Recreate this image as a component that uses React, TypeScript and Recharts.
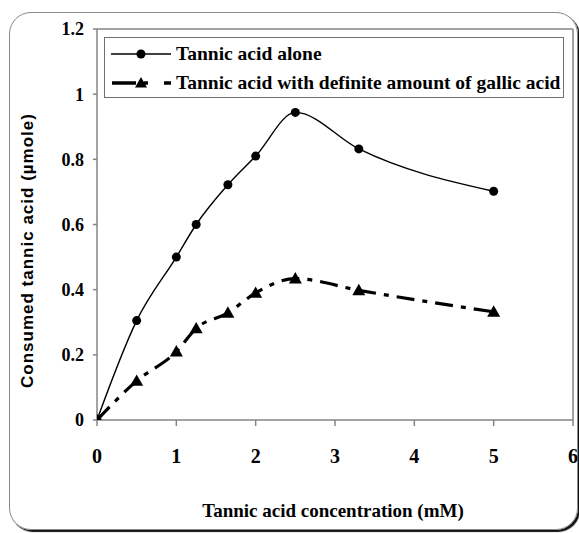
// Consumed tannic acid vs tannic acid concentration, with and without gallic acid.
// Excel-style framed chart: rounded outer border, boxed legend inside the plot.

import { LineChart, Line, XAxis, YAxis, ReferenceLine, Legend, Label } from "recharts";

const CONCENTRATION = [0, 0.5, 1, 1.25, 1.65, 2, 2.5, 3.3, 5];
const TANNIC_ALONE = [0, 0.305, 0.5, 0.6, 0.722, 0.81, 0.944, 0.832, 0.702];
const WITH_GALLIC = [0, 0.12, 0.21, 0.281, 0.329, 0.39, 0.434, 0.398, 0.332];

const X_TICKS = [0, 1, 2, 3, 4, 5, 6];
const Y_TICKS = [0, 0.2, 0.4, 0.6, 0.8, 1, 1.2];

const SERIES_NAMES = {
  alone: "Tannic acid alone",
  gallic: "Tannic acid with definite amount of gallic acid",
};

const rows = CONCENTRATION.map((c, i) => ({ c, alone: TANNIC_ALONE[i], gallic: WITH_GALLIC[i] }));

const SERIF = "Liberation Serif, DejaVu Serif, Times, serif";
const SANS = "Liberation Sans, Arial, sans-serif";
const AXIS_GRAY = "#858585";

function Triangle(props: any) {
  const { cx, cy } = props;
  if (cx == null || cy == null) return null;
  const s = 6.5;
  return <polygon points={`${cx},${cy - s} ${cx + s},${cy + s * 0.75} ${cx - s},${cy + s * 0.75}`} fill="#000" />;
}

function LegendBox() {
  const rowStyle = { display: "flex", alignItems: "center", height: 29 } as const;
  const textStyle = { fontFamily: SERIF, fontWeight: "bold", fontSize: 19.5, color: "#000", whiteSpace: "nowrap" } as const;
  return (
    <div style={{ width: 460, height: 61, boxSizing: "border-box", border: "1.5px solid #707070", background: "#fff", paddingTop: 1 }}>
      <div style={rowStyle}>
        <svg width={71} height={16} style={{ flex: "none" }}>
          <line x1={6} y1={8} x2={66} y2={8} stroke="#000" strokeWidth={1.5} />
          <circle cx={36} cy={8} r={4.5} fill="#000" />
        </svg>
        <span style={textStyle}>{SERIES_NAMES.alone}</span>
      </div>
      <div style={rowStyle}>
        <svg width={71} height={16} style={{ flex: "none" }}>
          <line x1={7} y1={8} x2={31} y2={8} stroke="#000" strokeWidth={3.5} />
          <line x1={39} y1={8} x2={43} y2={8} stroke="#000" strokeWidth={3.5} />
          <line x1={59} y1={8} x2={66} y2={8} stroke="#000" strokeWidth={3.5} />
          <polygon points="36,2 42,12.5 30,12.5" fill="#000" />
        </svg>
        <span style={textStyle}>{SERIES_NAMES.gallic}</span>
      </div>
    </div>
  );
}

export default function App() {
  return (
    <div style={{ position: "absolute", left: 0, top: 0, width: 579, height: 533, background: "#fff" }}>
      <div
        style={{
          position: "absolute", left: 9, top: 12, width: 569, height: 518, boxSizing: "border-box",
          border: "1.5px solid #8a8a8a", borderRadius: 22, boxShadow: "2px 2px 1px #111",
        }}
      />
      <div style={{ position: "absolute", left: 0, top: 0 }}>
        <LineChart width={579} height={533} data={rows} margin={{ top: 29, right: 6, bottom: 53, left: 7 }}>
          <XAxis
            dataKey="c" type="number" domain={[0, 6]} ticks={X_TICKS} allowDataOverflow
            height={60} tickSize={6} tickMargin={23}
            axisLine={{ stroke: AXIS_GRAY, strokeWidth: 1.5 }} tickLine={{ stroke: AXIS_GRAY, strokeWidth: 1.5 }}
            tick={{ fill: "#000", fontFamily: SERIF, fontWeight: "bold", fontSize: 20 }}
          >
            <Label
              content={({ viewBox }: any) => (
                <text
                  x={viewBox.x + viewBox.width / 2 - 2} y={viewBox.y + 90} textAnchor="middle" dominantBaseline="central"
                  fontFamily={SERIF} fontWeight="bold" fontSize={19} fill="#000"
                >
                  Tannic acid concentration (mM)
                </text>
              )}
            />
          </XAxis>
          <YAxis
            type="number" domain={[0, 1.2]} ticks={Y_TICKS} allowDataOverflow
            width={90} tickSize={4} tickMargin={9}
            axisLine={{ stroke: AXIS_GRAY, strokeWidth: 1.5 }} tickLine={{ stroke: AXIS_GRAY, strokeWidth: 1.5 }}
            tick={{ fill: "#000", fontFamily: SERIF, fontWeight: "bold", fontSize: 18 }}
          >
            <Label
              content={({ viewBox }: any) => {
                const x = viewBox.x + 20;
                const y = viewBox.y + viewBox.height / 2 + 26;
                return (
                  <text
                    x={x} y={y} transform={`rotate(-90 ${x} ${y})`} textAnchor="middle" dominantBaseline="central"
                    fontFamily={SANS} fontWeight="bold" fontSize={17} letterSpacing={1} fill="#000"
                  >
                    Consumed tannic acid (µmole)
                  </text>
                );
              }}
            />
          </YAxis>
          <ReferenceLine y={1.2} stroke={AXIS_GRAY} strokeWidth={1.5} />
          <ReferenceLine x={6} stroke={AXIS_GRAY} strokeWidth={1.5} />
          <Legend
            layout="vertical" align="center" verticalAlign="middle"
            wrapperStyle={{ left: 104, top: 37, width: 460 }}
            content={() => <LegendBox />}
          />
          <Line
            dataKey="alone" name={SERIES_NAMES.alone} type="monotone" stroke="#000" strokeWidth={1.4}
            dot={{ r: 4.5, fill: "#000", stroke: "#000", strokeWidth: 0 }} activeDot={false} isAnimationActive={false}
          />
          <Line
            dataKey="gallic" name={SERIES_NAMES.gallic} type="monotone" stroke="#000" strokeWidth={3.2}
            strokeDasharray="18 8 5 8" dot={<Triangle />} activeDot={false} isAnimationActive={false}
          />
        </LineChart>
      </div>
    </div>
  );
}
